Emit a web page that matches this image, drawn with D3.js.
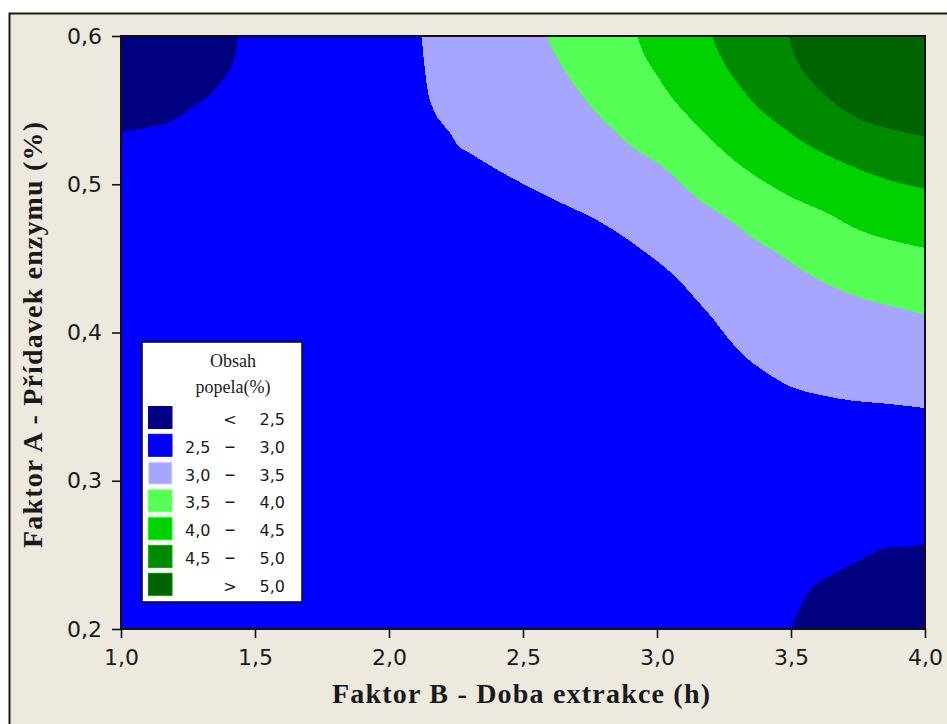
<!DOCTYPE html>
<html>
<head>
<meta charset="utf-8">
<script src="https://cdn.jsdelivr.net/npm/d3@7/dist/d3.min.js"></script>
<style>
  body { margin: 0; background: #ffffff; }
  svg { display: block; }
</style>
</head>
<body>
<svg id="chart" width="947" height="724"></svg>
<script>
// Data
// Axis ticks
const xTicks = [1.0, 1.5, 2.0, 2.5, 3.0, 3.5, 4.0];
const yTicks = [0.2, 0.3, 0.4, 0.5, 0.6];

// Contour levels (Obsah popela, %) and their fill colours
const levels = [2.5, 3.0, 3.5, 4.0, 4.5, 5.0];
const levelColors = ['#000080', '#0000ff', '#a6a6ff', '#55ff55', '#00d200', '#008a00', '#006400'];

// Contour lines as [Faktor B, Faktor A] points
// 2,5 line, top-left corner (top edge -> left edge)
const contour25TopLeft = [
    [1.436, 0.600], [1.425, 0.586], [1.406, 0.577], [1.369, 0.568], [1.332, 0.560],
    [1.283, 0.554], [1.231, 0.547], [1.171, 0.541], [1.097, 0.538], [1.000, 0.535]
];
// 2,5 line, bottom-right corner (bottom edge -> right edge)
const contour25BottomRight = [
    [3.501, 0.200], [3.530, 0.213], [3.579, 0.228], [3.616, 0.233], [3.691, 0.240],
    [3.765, 0.247], [3.829, 0.253], [3.866, 0.255], [3.914, 0.255], [4.000, 0.257]
];
// 3,0 line (top edge -> right edge)
const contour30 = [
    [2.122, 0.600], [2.133, 0.579], [2.152, 0.557], [2.181, 0.545], [2.226, 0.535],
    [2.263, 0.525], [2.301, 0.521], [2.401, 0.510], [2.524, 0.498], [2.647, 0.487],
    [2.774, 0.476], [2.897, 0.462], [2.934, 0.457], [3.009, 0.447], [3.083, 0.435],
    [3.147, 0.422], [3.206, 0.410], [3.270, 0.395], [3.333, 0.383], [3.408, 0.373],
    [3.504, 0.363], [3.605, 0.358], [3.728, 0.354], [3.855, 0.352], [4.000, 0.349]
];
// 3,5 line
const contour35 = [
    [2.588, 0.600], [2.625, 0.586], [2.662, 0.575], [2.711, 0.562], [2.774, 0.548],
    [2.834, 0.537], [2.908, 0.525], [3.020, 0.512], [3.147, 0.491], [3.270, 0.476],
    [3.355, 0.464], [3.445, 0.454], [3.542, 0.442], [3.653, 0.431], [3.765, 0.423],
    [3.892, 0.417], [4.000, 0.412]
];
// 4,0 line
const contour40 = [
    [2.927, 0.600], [2.953, 0.587], [2.998, 0.574], [3.053, 0.559], [3.121, 0.545],
    [3.203, 0.530], [3.288, 0.516], [3.381, 0.504], [3.504, 0.491], [3.631, 0.481],
    [3.754, 0.469], [3.877, 0.462], [4.000, 0.457]
];
// 4,5 line
const contour45 = [
    [3.206, 0.600], [3.229, 0.589], [3.266, 0.577], [3.318, 0.564], [3.381, 0.551],
    [3.456, 0.540], [3.549, 0.528], [3.642, 0.519], [3.754, 0.510], [3.877, 0.502],
    [4.000, 0.497]
];
// 5,0 line
const contour50 = [
    [3.493, 0.600], [3.504, 0.591], [3.542, 0.577], [3.605, 0.564], [3.680, 0.552],
    [3.765, 0.543], [3.877, 0.537], [4.000, 0.532]
];

// Layout
const plot = { left: 121, top: 36, right: 925, bottom: 629 };
const fmt = d3.formatLocale({ decimal: ',', thousands: ' ', grouping: [3], currency: ['', ''] }).format('.1f');

const svg = d3.select('#chart');

// Window-like beige panel (only left/top edges are visible)
svg.append('rect')
    .attr('x', 9).attr('y', 13).attr('width', 960).attr('height', 720)
    .attr('fill', '#ede9df');
svg.append('path')
    .attr('d', 'M9.5,724V13.5H947')
    .attr('fill', 'none').attr('stroke', '#1a1a1a').attr('stroke-width', 2);

// Scales
const x = d3.scaleLinear().domain([1, 4]).range([plot.left, plot.right]);
const y = d3.scaleLinear().domain([0.2, 0.6]).range([plot.bottom, plot.top]);

svg.append('clipPath').attr('id', 'plotClip')
    .append('rect')
    .attr('x', x(1)).attr('y', y(0.6))
    .attr('width', x(4) - x(1)).attr('height', y(0.2) - y(0.6));

const g = svg.append('g').attr('clip-path', 'url(#plotClip)');

// Background band 2,5 - 3,0
g.append('rect')
    .attr('x', x(1)).attr('y', y(0.6))
    .attr('width', x(4) - x(1)).attr('height', y(0.2) - y(0.6))
    .attr('fill', levelColors[1]);

const line = d3.line()
    .x(d => x(d[0]))
    .y(d => y(d[1]))
    .curve(d3.curveCatmullRom.alpha(0.5));

// Close a contour line through a corner of the plot
function region(points, corner) {
    return line(points) + `L${x(corner[0])},${y(corner[1])}Z`;
}

const regions = [
    { pts: contour30, corner: [4, 0.6], color: levelColors[2] },
    { pts: contour35, corner: [4, 0.6], color: levelColors[3] },
    { pts: contour40, corner: [4, 0.6], color: levelColors[4] },
    { pts: contour45, corner: [4, 0.6], color: levelColors[5] },
    { pts: contour50, corner: [4, 0.6], color: levelColors[6] },
    { pts: contour25TopLeft, corner: [1, 0.6], color: levelColors[0] },
    { pts: contour25BottomRight, corner: [4, 0.2], color: levelColors[0] }
];

g.selectAll('path.band')
    .data(regions)
    .join('path')
    .attr('class', 'band')
    .attr('d', d => region(d.pts, d.corner))
    .attr('fill', d => d.color)
    .attr('shape-rendering', 'crispEdges');

// Axes
const xAxis = svg.append('g')
    .attr('transform', `translate(0,${plot.bottom})`)
    .call(d3.axisBottom(x).tickValues(xTicks).tickFormat(fmt).tickSize(9).tickPadding(11));
const yAxis = svg.append('g')
    .attr('transform', `translate(${plot.left},0)`)
    .call(d3.axisLeft(y).tickValues(yTicks).tickFormat(fmt).tickSize(9).tickPadding(10));

[xAxis, yAxis].forEach(a => {
    a.select('.domain').remove();
    a.selectAll('line').attr('stroke', '#111').attr('stroke-width', 1.6);
    a.selectAll('text')
        .attr('fill', '#1a1a1a')
        .style('font-family', '"DejaVu Sans", sans-serif')
        .style('font-size', '22px');
});

// Plot frame
svg.append('rect')
    .attr('x', x(1)).attr('y', y(0.6))
    .attr('width', x(4) - x(1)).attr('height', y(0.2) - y(0.6))
    .attr('fill', 'none').attr('stroke', '#111').attr('stroke-width', 2);

// Axis titles
svg.append('text')
    .attr('x', 332).attr('y', 703)
    .attr('textLength', 378).attr('lengthAdjust', 'spacing')
    .style('font-family', '"Liberation Serif", "Times New Roman", serif')
    .style('font-weight', 'bold').style('font-size', '28px')
    .attr('fill', '#1a1a1a')
    .text('Faktor B - Doba extrakce (h)');

svg.append('text')
    .attr('transform', 'translate(41.5,548) rotate(-90)')
    .attr('textLength', 426).attr('lengthAdjust', 'spacing')
    .style('font-family', '"Liberation Serif", "Times New Roman", serif')
    .style('font-weight', 'bold').style('font-size', '28px')
    .attr('fill', '#1a1a1a')
    .text('Faktor A - Přídavek enzymu (%)');

// Legend
const legend = svg.append('g');
legend.append('rect')
    .attr('x', 142).attr('y', 342).attr('width', 160).attr('height', 260)
    .attr('fill', '#ffffff').attr('stroke', '#111').attr('stroke-width', 1.6);

legend.selectAll('text.title')
    .data(['Obsah', 'popela(%)'])
    .join('text')
    .attr('class', 'title')
    .attr('x', 233).attr('y', (d, i) => 367 + i * 26)
    .attr('text-anchor', 'middle')
    .style('font-family', '"Liberation Serif", "Times New Roman", serif')
    .style('font-size', '18px')
    .attr('fill', '#1a1a1a')
    .text(d => d);

const rows = levelColors.map((c, i) => ({
    color: c,
    lo: i === 0 ? null : levels[i - 1],
    hi: i === levels.length ? null : levels[i]
}));

const rowStep = 27.8;
const row = legend.selectAll('g.row')
    .data(rows)
    .join('g')
    .attr('class', 'row')
    .attr('transform', (d, i) => `translate(0,${406 + i * rowStep})`);

row.append('rect')
    .attr('x', 148.5).attr('y', 0.5).attr('width', 23.5).attr('height', 22)
    .attr('fill', d => d.color)
    .attr('stroke', d => d3.color(d.color).brighter(0.8))
    .attr('stroke-width', 1);

const legendText = sel => sel
    .style('font-family', '"DejaVu Sans", sans-serif')
    .style('font-size', '16px')
    .attr('fill', '#1a1a1a')
    .attr('y', 19);

row.append('text').call(legendText)
    .attr('x', 185)
    .text(d => d.lo !== null && d.hi !== null ? fmt(d.lo) : '');

row.append('text').call(legendText)
    .attr('x', 230).attr('text-anchor', 'middle')
    .style('font-size', d => d.lo !== null && d.hi !== null ? '22px' : '16px')
    .text(d => d.lo === null ? '<' : d.hi === null ? '>' : '–');

row.append('text').call(legendText)
    .attr('x', 285).attr('text-anchor', 'end')
    .text(d => fmt(d.hi !== null ? d.hi : d.lo));
</script>
</body>
</html>
